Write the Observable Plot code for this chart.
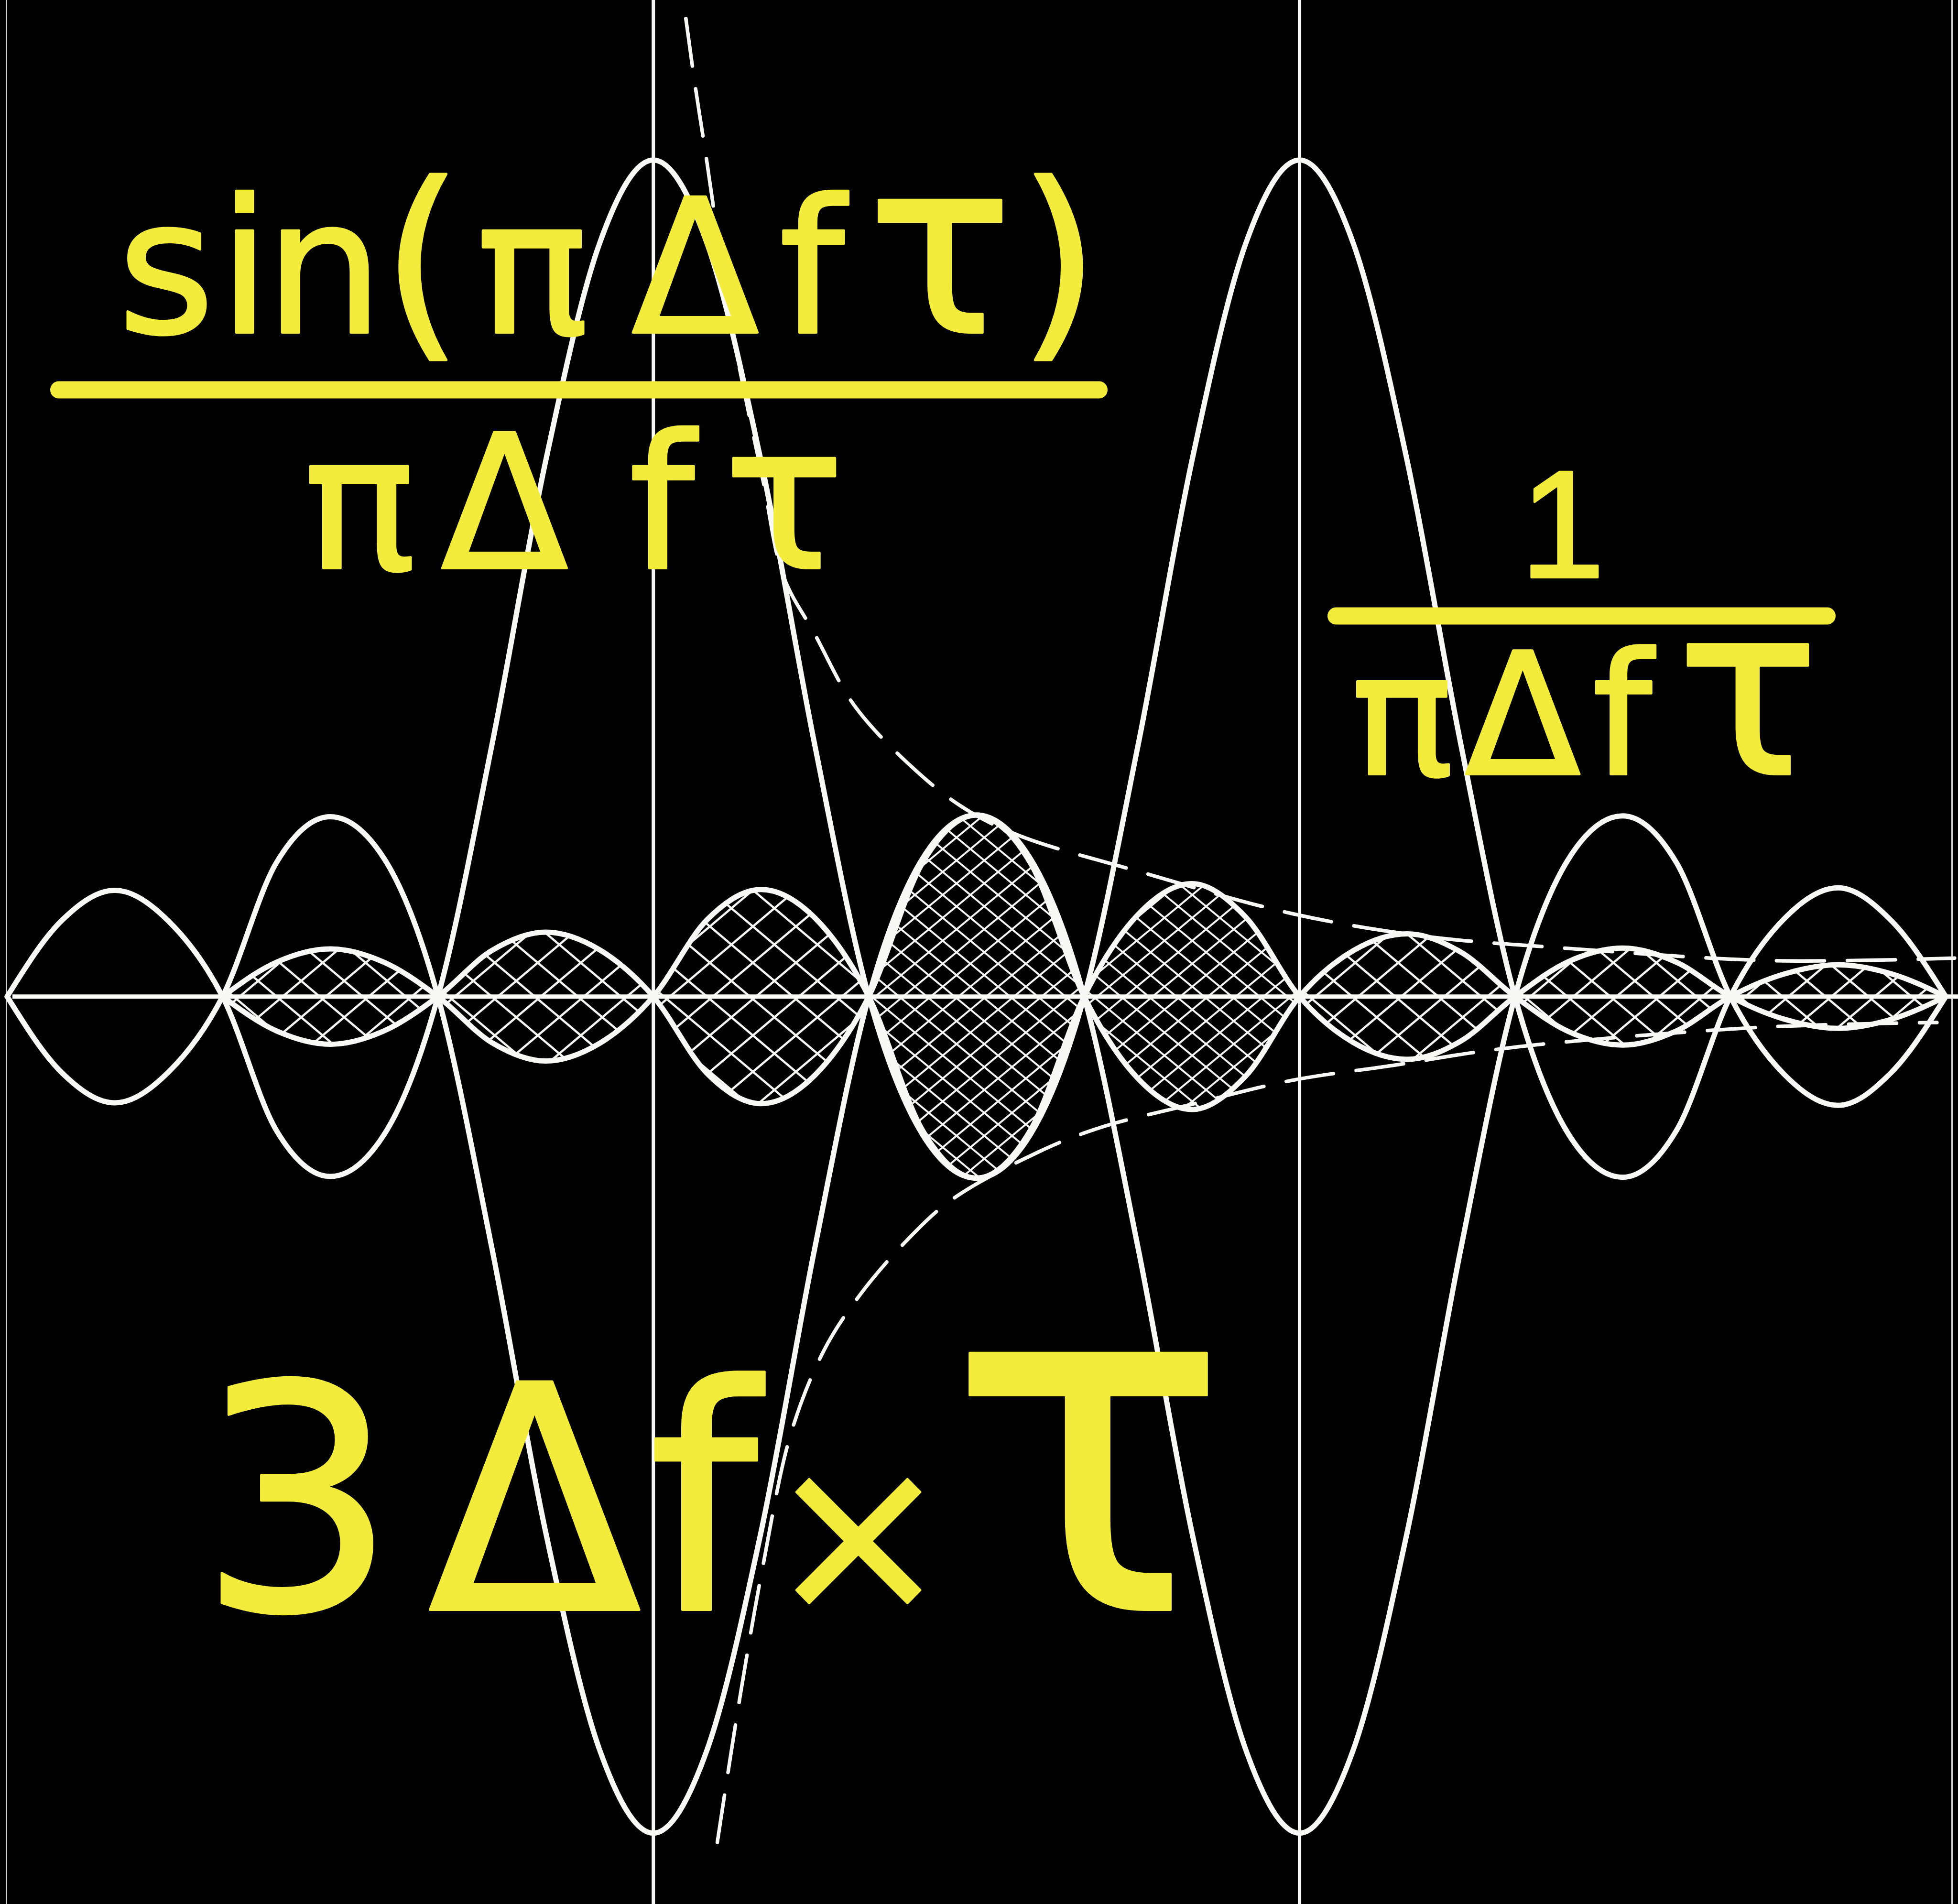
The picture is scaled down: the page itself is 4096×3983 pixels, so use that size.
<!DOCTYPE html>
<html>
<head>
<meta charset="utf-8">
<script src="https://cdn.jsdelivr.net/npm/d3@7"></script>
<script src="https://cdn.jsdelivr.net/npm/@observablehq/plot@0.6"></script>
<style>
  html, body { margin: 0; padding: 0; background: #000; }
  #chart svg { display: block; }
</style>
</head>
<body>
<div id="chart"></div>
<script>
// Sample positions along the Δf·τ axis (quarter steps)
const offsets = [-3, -2.75, -2.5, -2.25, -2, -1.75, -1.5, -1.25, -1, -0.75, -0.5, -0.25,
  0, 0.25, 0.5, 0.75, 1, 1.25, 1.5, 1.75, 2, 2.25, 2.5, 2.75, 3, 3.25, 3.5, 3.75,
  4, 4.25, 4.5, 4.75, 5, 5.25, 5.5, 5.75, 6];

// Response centred on Δf·τ = 0
const centredOnZero = [0, 0.09, 0.127, 0.09, 0, -0.16, -0.215, -0.165, 0, 0.30, 0.64, 0.90,
  1.0, 0.90, 0.64, 0.30, 0, -0.165, -0.217, -0.16, 0, 0.098, 0.135, 0.095, 0, -0.055, -0.075, -0.053,
  0, 0.042, 0.058, 0.041, 0, -0.027, -0.038, -0.027, 0];

// Response centred on Δf·τ = 3 (starts at −2)
const centredOnThree = [null, null, null, null, 0, 0.041, 0.057, 0.041, 0, -0.055, -0.077, -0.056,
  0, 0.092, 0.128, 0.094, 0, -0.16, -0.217, -0.165, 0, 0.30, 0.64, 0.90, 1.0, 0.90, 0.64, 0.30,
  0, -0.165, -0.216, -0.16, 0, 0.093, 0.13, 0.09, 0];

// 1/(πΔfτ) bound: [Δf·τ, amplitude]
const boundUpper = [[0.151, 1.169], [0.197, 1.084], [0.238, 1.016], [0.371, 0.791], [0.510, 0.616],
  [0.603, 0.503], [0.748, 0.434], [0.933, 0.348], [1.194, 0.276], [1.432, 0.227], [1.693, 0.193],
  [2.261, 0.149], [2.968, 0.099], [3.583, 0.072], [4.226, 0.058], [5.194, 0.043], [6.041, 0.046]];
const boundLower = [[0.297, -1.011], [0.403, -0.836], [0.510, -0.679], [0.639, -0.522], [0.794, -0.422],
  [0.958, -0.357], [1.171, -0.293], [1.384, -0.243], [1.786, -0.186], [2.070, -0.157], [2.496, -0.129],
  [2.968, -0.100], [3.441, -0.082], [3.832, -0.066], [4.243, -0.054], [5.194, -0.036], [5.959, -0.031]];

// Lobes filled with cross-hatching: which response, span, hatch density
const hatchFrom = ["three", "three", "zero", "zero"];
const hatchStart = [-2, 1, 2, 3];
const hatchEnd = [1, 2, 3, 6];
const hatchKind = ["open", "fine", "fine", "open"];

// Centre lines
const centres = [0, 3];

// Formula labels
const labels = ["sin(πΔfτ)", "πΔfτ", "1", "πΔfτ", "3Δf×τ"];

const W = 4096, H = 3983;
const xDomain = [-3.032, 6.058];
const yDomain = [-1.085, 1.191];
// layout pixel -> scale value, for placing the formula bars
const px = d3.scaleLinear([0, W], xDomain);
const py = d3.scaleLinear([0, H], [yDomain[1], yDomain[0]]);

const white = "#f8f8f4";
const yellow = "#f4ec3c";
const ink = {stroke: white, strokeWidth: 11, curve: "monotone-x", strokeLinejoin: "round", strokeLinecap: "round"};

const rows = offsets.map((x, i) => ({x, zero: centredOnZero[i], three: centredOnThree[i]}));
const toPoint = ([x, y]) => ({x, y});

const hatchMarks = hatchFrom.map((key, i) =>
  Plot.areaY(rows.filter(d => d[key] != null && d.x >= hatchStart[i] && d.x <= hatchEnd[i]), {
    x: "x", y1: d => -d[key], y2: d => d[key],
    fill: `url(#hatch-${hatchKind[i]})`, curve: "monotone-x"
  }));

// Typesetting of each formula line: baseline, size, glyph centres
const layout = [
  {dy: 695, size: 390, font: "DejaVu Sans", tau: 1.3, centres: [347, 511, 678, 883, 1113, 1454, 1698, 1966, 2215]},
  {dy: 1188, size: 390, font: "DejaVu Sans", tau: 1.08, centres: [752, 1055, 1384, 1640]},
  {dy: 1207, size: 320, font: "Liberation Sans", tau: 1, centres: [3268]},
  {dy: 1619, size: 355, font: "DejaVu Sans", tau: 1.4, centres: [2933, 3185, 3393, 3656]},
  {dy: 3367, size: 655, font: "DejaVu Sans", tau: 1.5, centres: [622, 1118, 1471, 1795, 2276]}
];

const chart = Plot.plot({
  width: W, height: H,
  margin: 0,
  x: {domain: xDomain, axis: null},
  y: {domain: yDomain, axis: null},
  style: {background: "#000"},
  marks: [
    ...hatchMarks,
    Plot.ruleX([px(13), px(4083)], {stroke: "#cfcfcf", strokeWidth: 3}),
    Plot.ruleY([0], {x1: px(26), x2: xDomain[1], stroke: white, strokeWidth: 9}),
    Plot.ruleX(centres, {stroke: white, strokeWidth: 7}),
    Plot.line(rows, {x: "x", y: "zero", ...ink}),
    Plot.line(rows, {x: "x", y: d => -d.zero, ...ink}),
    Plot.line(rows, {filter: d => d.three != null, x: "x", y: "three", ...ink}),
    Plot.line(rows, {filter: d => d.three != null, x: "x", y: d => -d.three, ...ink}),
    Plot.line(boundUpper.map(toPoint), {x: "x", y: "y", stroke: white, strokeWidth: 7.5, strokeDasharray: "100,48", curve: "catmull-rom"}),
    Plot.line(boundLower.map(toPoint), {x: "x", y: "y", stroke: white, strokeWidth: 7.5, strokeDasharray: "100,48", curve: "catmull-rom"}),
    Plot.ruleY([py(815)], {x1: px(123), x2: px(2299), stroke: yellow, strokeWidth: 36, strokeLinecap: "round"}),
    Plot.ruleY([py(1288)], {x1: px(2795), x2: px(3822), stroke: yellow, strokeWidth: 36, strokeLinecap: "round"}),
    ...labels.map((s, i) => Plot.text([s], {
      frameAnchor: "top-left", text: d => d, textAnchor: "middle", lineAnchor: "bottom",
      dx: 0, dy: layout[i].dy, fontSize: layout[i].size, fontFamily: layout[i].font,
      fill: yellow, stroke: yellow, strokeWidth: 5, strokeLinejoin: "round"
    }))
  ]
});

const svg = d3.select(chart);
const defs = svg.insert("defs", ":first-child");
function hatch(id, w, h, sw) {
  defs.append("pattern")
    .attr("id", id)
    .attr("patternUnits", "userSpaceOnUse")
    .attr("width", w).attr("height", h)
    .append("path")
    .attr("d", `M${-w},0L0,${h}M0,0L${w},${h}M${w},0L${2 * w},${h}` +
               `M${-w},${h}L0,0M0,${h}L${w},0M${w},${h}L${2 * w},0`)
    .attr("stroke", white).attr("stroke-width", sw).attr("fill", "none");
}
hatch("hatch-open", 90, 76, 4.5);
hatch("hatch-fine", 58, 48, 4);

// set each glyph of a formula at its own centre
svg.selectAll("g[aria-label=text] text").each(function (_, i) {
  const el = d3.select(this);
  const spec = layout[i];
  const glyphs = Array.from(el.text());
  el.text(null);
  glyphs.forEach((ch, j) => {
    const t = el.append("tspan").attr("x", spec.centres[j]).text(ch);
    if (ch === "τ") t.attr("font-size", `${spec.tau}em`);
    if (ch === "(" || ch === ")") t.attr("font-size", "1.12em");
    if (ch === "×") t.attr("font-size", "0.7em");
  });
});

document.getElementById("chart").appendChild(chart);
</script>
</body>
</html>
